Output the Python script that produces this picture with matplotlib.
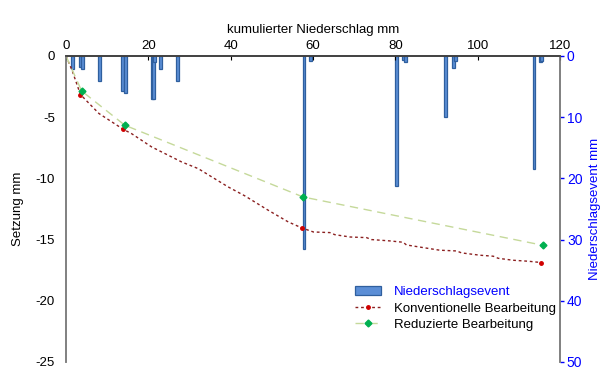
import numpy as np
import matplotlib
matplotlib.use('Agg')
import matplotlib.pyplot as plt

plt.rcParams['font.family'] = ['Liberation Sans', 'DejaVu Sans']
plt.rcParams['font.size'] = 8
plt.rcParams['axes.unicode_minus'] = False

# niederschlagsevents: position (kum. niederschlag mm) und hoehe (mm)
rain_x = [1.5, 3.6, 4.0, 8.1, 13.8, 14.4, 21.0, 21.3, 21.6, 23.0, 27.0,
          57.8, 59.4, 80.3, 82.0, 82.4, 92.2, 94.1, 94.7, 113.7, 115.3, 115.6]
rain_mm = [2.1, 1.8, 2.1, 4.1, 5.7, 6.1, 7.0, 7.1, 1.0, 2.1, 4.1,
           31.5, 0.8, 21.2, 0.6, 1.0, 9.9, 1.9, 0.8, 18.5, 1.0, 0.8]

# konventionelle bearbeitung - verlauf
conv_x = [0, 1.5, 3.5, 8.0, 13.9, 15.9, 20.8, 28.1, 32.1, 39.4, 43.5, 49.1, 54.0, 57.3,
          60.1, 64.1, 65.3, 69.0, 73.0, 74.2, 78.7, 81.9, 82.7, 90.8, 94.9, 96.1,
          100.6, 103.8, 105.0, 108.6, 112.3, 115.5]
conv_y = [0, -1.2, -3.15, -4.7, -5.99, -6.34, -7.43, -8.66, -9.2, -10.7, -11.44, -12.6, -13.56, -14.05,
          -14.38, -14.43, -14.6, -14.79, -14.84, -15.0, -15.11, -15.22, -15.44, -15.87, -15.93, -16.09,
          -16.28, -16.36, -16.53, -16.69, -16.77, -16.88]
conv_mx = [3.5, 13.9, 57.3, 115.5]
conv_my = [-3.15, -5.99, -14.05, -16.88]

# reduzierte bearbeitung
red_x = [0, 3.8, 14.3, 57.6, 115.9]
red_y = [0, -2.86, -5.66, -11.52, -15.47]

fig = plt.figure(figsize=(6.13, 3.72), dpi=100)
ax = fig.add_axes([0.1077, 0.027, 0.8058, 0.8225])
ax2 = ax.twinx()

ax2.bar(rain_x, rain_mm, width=0.7, color='#5B8ED6', edgecolor='#2F5F9E', linewidth=0.9,
        label='Niederschlagsevent')
ax2.set_ylim(50, 0)
ax2.set_yticks([0, 10, 20, 30, 40, 50])
ax2.tick_params(axis='y', colors='#0000FF', labelsize=10, length=3, width=1, pad=2)
ax2.set_ylabel('Niederschlagsevent mm', color='#0000FF', fontsize=9.5, labelpad=5)

ax.set_zorder(ax2.get_zorder() + 1)
ax.patch.set_visible(False)

l1, = ax.plot(conv_x, conv_y, color='#8B2020', lw=1, ls=(0, (2, 2)))
m1, = ax.plot(conv_mx, conv_my, ls='none', marker='o', ms=2.5, color='#D00000')
l2, = ax.plot(red_x, red_y, color='#C5D99A', lw=1, ls=(0, (6, 4)))
m2, = ax.plot(red_x[1:], red_y[1:], ls='none', marker='D', ms=3.5, color='#00B050')

ax.set_xlim(0, 120)
ax.set_ylim(-25, 0)
ax.set_xticks([0, 20, 40, 60, 80, 100, 120])
ax.set_yticks([0, -5, -10, -15, -20, -25])
ax.xaxis.tick_top()
ax.xaxis.set_label_position('top')
ax.set_xlabel('kumulierter Niederschlag mm', fontsize=9.5, labelpad=5)
ax.set_ylabel('Setzung mm', fontsize=9.5, labelpad=8)
ax.tick_params(axis='x', labelsize=9.5, direction='in', length=3, pad=3)
ax.tick_params(axis='y', labelsize=9.5, length=0, pad=8)

for a in (ax, ax2):
    a.spines['bottom'].set_visible(False)
    a.spines['left'].set_color('#808080')
    a.spines['right'].set_color('#808080')
    a.spines['top'].set_color('#404040')
    a.spines['left'].set_linewidth(1.2)
    a.spines['right'].set_linewidth(1.2)
    a.spines['top'].set_linewidth(1.2)

bars = ax2.containers[0]
leg = ax.legend([bars, (l1, m1), (l2, m2)],
                ['Niederschlagsevent', 'Konventionelle Bearbeitung', 'Reduzierte Bearbeitung'],
                loc='upper left', bbox_to_anchor=(0.57, 0.245), bbox_transform=fig.transFigure,
                frameon=False, fontsize=9.5, handlelength=2.0, handletextpad=1.0,
                labelspacing=0.3, borderaxespad=0)
leg.get_texts()[0].set_color('#0000FF')

fig.savefig('out.png', dpi=100)
